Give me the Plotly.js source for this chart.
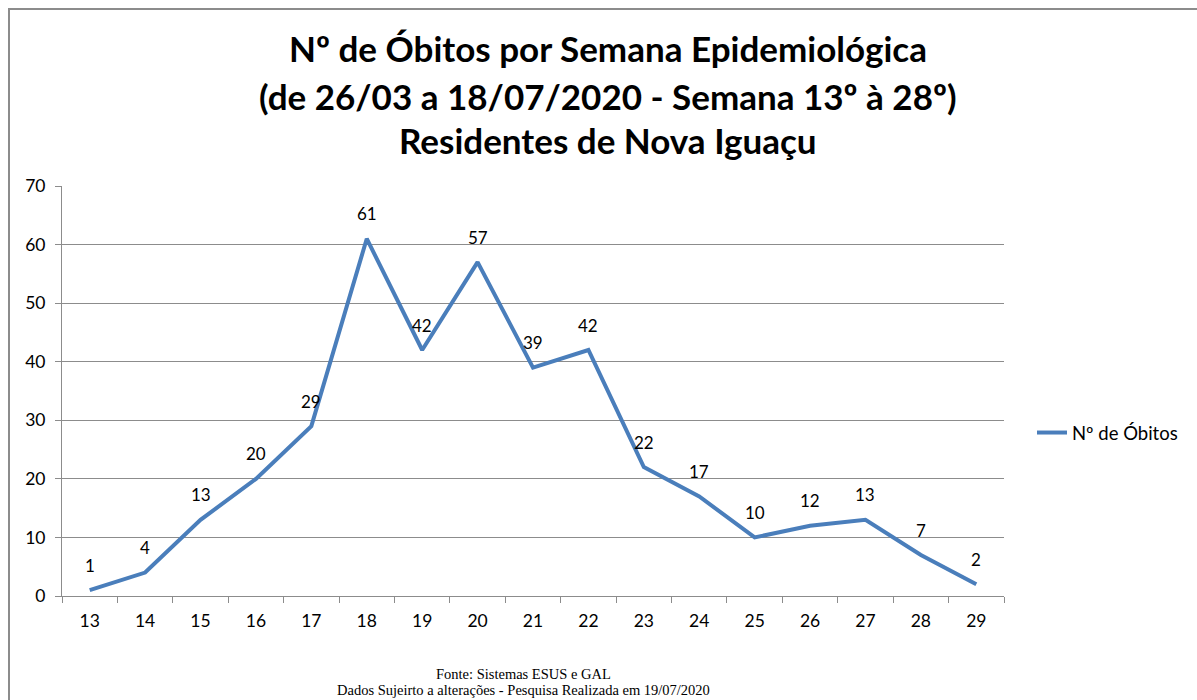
<!DOCTYPE html>
<html>
<head>
<meta charset="utf-8">
<script src="https://cdn.plot.ly/plotly-3.0.1.min.js"></script>
<style>
html,body{margin:0;padding:0;background:#fff;}
#chart{width:1197px;height:700px;}
</style>
</head>
<body>
<div id="chart"></div>
<script>
const weeks = ["13","14","15","16","17","18","19","20","21","22","23","24","25","26","27","28","29"];
const deaths = [1,4,13,20,29,61,42,57,39,42,22,17,10,12,13,7,2];
const seriesName = "Nº de Óbitos";
const titleLines = [
  "Nº de Óbitos por Semana Epidemiológica",
  "(de 26/03 a 18/07/2020 - Semana 13º à 28º)",
  "Residentes de Nova Iguaçu"
];
const footerLines = [
  "Fonte: Sistemas ESUS e GAL",
  "Dados Sujeirto a alterações - Pesquisa Realizada em 19/07/2020"
];
const yTicks = [0,10,20,30,40,50,60,70];

const FONT = "Lato, 'Open Sans', sans-serif";
const lineColor = "#4a7ebb";
const gridColor = "#8c8c8c";

const trace = {
  x: weeks, y: deaths, type: "scatter", mode: "lines",
  name: seriesName,
  line: {color: lineColor, width: 4},
  hoverinfo: "x+y"
};

const annotations = [];
weeks.forEach((w,i)=>{
  annotations.push({
    x: i, y: deaths[i], xref: "x", yref: "y",
    text: String(deaths[i]), showarrow: false,
    yanchor: "middle", xanchor: "center", yshift: 25,
    font: {family: FONT, size: 17, color: "#000"}
  });
});
const titleY = [652, 604, 560]; // distances from bottom in px
titleLines.forEach((t,i)=>{
  annotations.push({
    x: 0.5796, xref: "paper", xanchor: "center",
    y: (titleY[i]-104)/410, yref: "paper", yanchor: "middle",
    text: "<b>"+t+"</b>", showarrow: false,
    font: {family: FONT, size: 35, color: "#000"}
  });
});
const footY = [674, 690];
footerLines.forEach((t,i)=>{
  annotations.push({
    x: (523-62)/942, xref: "paper", xanchor: "center",
    y: (596-footY[i])/410, yref: "paper", yanchor: "middle",
    text: t, showarrow: false,
    font: {family: "'Liberation Serif', 'Times New Roman', serif", size: 14.5, color: "#000"}
  });
});

const layout = {
  width: 1197, height: 700,
  margin: {l: 62, r: 193, t: 186, b: 104},
  paper_bgcolor: "#fff", plot_bgcolor: "#fff",
  showlegend: true,
  legend: {
    xref: "container", yref: "container",
    x: 1032/1197, xanchor: "left", y: (700-433)/700, yanchor: "middle",
    font: {family: FONT, size: 18.5, color: "#000"},
    bgcolor: "rgba(0,0,0,0)"
  },
  xaxis: {
    type: "category", categoryorder: "array", categoryarray: weeks,
    range: [-0.5, weeks.length-0.5],
    showline: true, linecolor: gridColor, linewidth: 1,
    ticks: "outside", tickson: "boundaries", ticklen: 6, tickcolor: gridColor,
    ticklabelstandoff: 9,
    showgrid: false, zeroline: false,
    tickfont: {family: FONT, size: 17.5, color: "#000"},
    fixedrange: true
  },
  yaxis: {
    range: [0, 70], tickvals: yTicks,
    showline: true, linecolor: gridColor, linewidth: 1,
    ticks: "outside", ticklen: 6, tickcolor: gridColor,
    ticklabelstandoff: 6,
    showgrid: true, gridcolor: gridColor, gridwidth: 1,
    zeroline: false,
    tickfont: {family: FONT, size: 17.5, color: "#000"},
    fixedrange: true
  },
  annotations: annotations,
  shapes: [{
    type: "rect", xref: "paper", yref: "paper",
    x0: (9-62)/942, x1: (1300-62)/942,
    y0: (596-800)/410, y1: (596-9)/410,
    line: {color: "#8c8c8c", width: 2}, fillcolor: "rgba(0,0,0,0)", layer: "below"
  }]
};

Plotly.newPlot("chart", [trace], layout, {displayModeBar: false, staticPlot: true});
</script>
</body>
</html>
